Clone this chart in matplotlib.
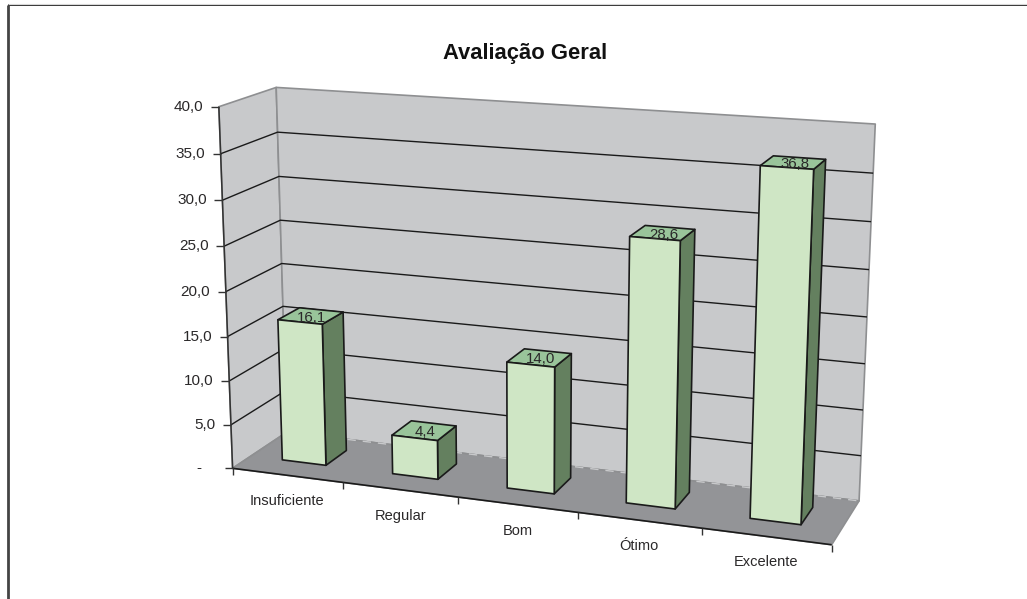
import numpy
from matplotlib import pyplot
from matplotlib.patches import Polygon

################################################################################
# Data #
categories = ['Insuficiente', 'Regular', 'Bom', 'Ótimo', 'Excelente']
values     = [16.1, 4.4, 14.0, 28.6, 36.8]
val_labels = ['16,1', '4,4', '14,0', '28,6', '36,8']
y_ticks    = [0, 5, 10, 15, 20, 25, 30, 35, 40]
y_labels   = ['-', '5,0', '10,0', '15,0', '20,0', '25,0', '30,0', '35,0', '40,0']
title      = 'Avaliação Geral'

# Calibration of the 3D box: (category, value, depth) -> pixel #
calibration = [
    (0, 0,  0, 232.3, 468.3), (0, 40, 0, 219.0, 106.7),
    (0, 0,  1, 287.0, 432.0), (0, 40, 1, 276.0,  87.3),
    (5, 0,  1, 859.3, 500.7), (5, 40, 1, 875.3, 124.0),
    (5, 0,  0, 831.7, 544.7), (0, 20, 0, 226.0, 291.7),
    (0, 20, 1, 281.7, 263.7), (5, 5,  1, 861.0, 456.0),
    (5, 10, 1, 862.7, 410.0),
]

# Colors #
wall_color  = '#c8c9cb'
floor_color = '#939497'
edge_color  = '#8e8f91'
face_color  = '#cfe6c5'
side_color  = '#64805f'
top_color   = '#99c49a'
text_color  = '#2a2829'

# Bar shape in one category and in depth #
bar_x0, bar_x1 = 0.29, 0.69
bar_d0, bar_d1 = 0.33, 0.73

################################################################################
def fit_projection(points):
    """Direct linear transform from box coordinates to pixels."""
    rows = []
    for x, y, d, u, v in points:
        rows.append([x, y, d, 1, 0, 0, 0, 0, -u*x, -u*y, -u*d, -u])
        rows.append([0, 0, 0, 0, x, y, d, 1, -v*x, -v*y, -v*d, -v])
    return numpy.linalg.svd(numpy.array(rows))[2][-1].reshape(3, 4)

matrix = fit_projection(calibration)

def project(x, y, d):
    u, v, w = matrix @ numpy.array([x, y, d, 1.0])
    return u/w, v/w

################################################################################
pyplot.rcParams['font.family'] = ['Liberation Sans', 'DejaVu Sans']
fig  = pyplot.figure(figsize=(10.27, 5.99), dpi=100)
axes = fig.add_axes([0, 0, 1, 1])
axes.set_xlim(0, 1027)
axes.set_ylim(599, 0)
axes.axis('off')

n      = len(categories)
y_max  = y_ticks[-1]

def face(points, color, zorder, edge='#1a1a1a', lw=1.2):
    poly = Polygon([project(*p) for p in points], closed=True, facecolor=color,
                   edgecolor=edge, linewidth=lw, zorder=zorder, joinstyle='round')
    axes.add_patch(poly)

def line(points, color='#1a1a1a', lw=1.0, zorder=3, **kwargs):
    xs, ys = zip(*points)
    axes.plot(xs, ys, color=color, lw=lw, zorder=zorder, solid_capstyle='butt', **kwargs)

# Outer frame #
line([(7.7, 5.3), (1027, 5.3)], color='#1f1f1f', lw=1.3)
line([(7.7, 5.3), (7.7, 599)], color='#444444', lw=2.0)
line([(7.7, 4.0), (1027, 4.0)], color='#d8d8d8', lw=0.8)

# Walls and floor #
face([(0, 0, 0), (0, y_max, 0), (0, y_max, 1), (0, 0, 1)], wall_color, 1, edge_color)
face([(0, 0, 1), (0, y_max, 1), (n, y_max, 1), (n, 0, 1)], wall_color, 1, edge_color)
face([(0, 0, 0), (0, 0, 1), (n, 0, 1), (n, 0, 0)], floor_color, 2, edge_color)
line([project(0, 0, 1), project(n, 0, 1)], color=wall_color, lw=1.0, zorder=2.5, linestyle=(0, (6, 5)))

# Gridlines #
for tick in y_ticks[1:-1]:
    line([project(0, tick, 0), project(0, tick, 1), project(n, tick, 1)], lw=1.0)

# Axes #
line([project(0, 0, 0), project(0, y_max, 0)], color='#333333', lw=1.1, zorder=4)
line([project(0, 0, 0), project(n, 0, 0)], color='#1a1a1a', lw=1.2, zorder=4)

# Value ticks and labels #
for tick, label in zip(y_ticks, y_labels):
    u, v = project(0, tick, 0)
    line([(u - 8, v), (u, v)], color='#333333', zorder=4)
    offset = 31 if tick == 0 else 15.5
    axes.text(u - offset, v, label, ha='right', va='center', fontsize=11, color=text_color)

# Category ticks and labels #
for i in range(n + 1):
    u, v = project(i, 0, 0)
    line([(u, v), (u, v + 7)], color='#333333', zorder=4)
for i, name in enumerate(categories):
    u, v = project(i + 0.5, 0, 0)
    axes.text(u, v + 26, name, ha='center', va='center', fontsize=10.5, color=text_color)

# Bars #
for i, (value, label) in enumerate(zip(values, val_labels)):
    x0, x1 = i + bar_x0, i + bar_x1
    z = 5 + i
    face([(x1, 0, bar_d0), (x1, value, bar_d0), (x1, value, bar_d1), (x1, 0, bar_d1)], side_color, z)
    face([(x0, value, bar_d0), (x0, value, bar_d1), (x1, value, bar_d1), (x1, value, bar_d0)], top_color, z)
    face([(x0, 0, bar_d0), (x0, value, bar_d0), (x1, value, bar_d0), (x1, 0, bar_d0)], face_color, z)
    u, v = project(i + 0.5, value, (bar_d0 + bar_d1)/2)
    axes.text(u, v + 1.5, label, ha='center', va='center', fontsize=10.8, color=text_color, zorder=z)

# Title #
axes.text(525, 53, title, ha='center', va='center', fontsize=15.8, fontweight='bold', color='#111111')

# Save it #
fig.savefig('out.png', dpi=100)
